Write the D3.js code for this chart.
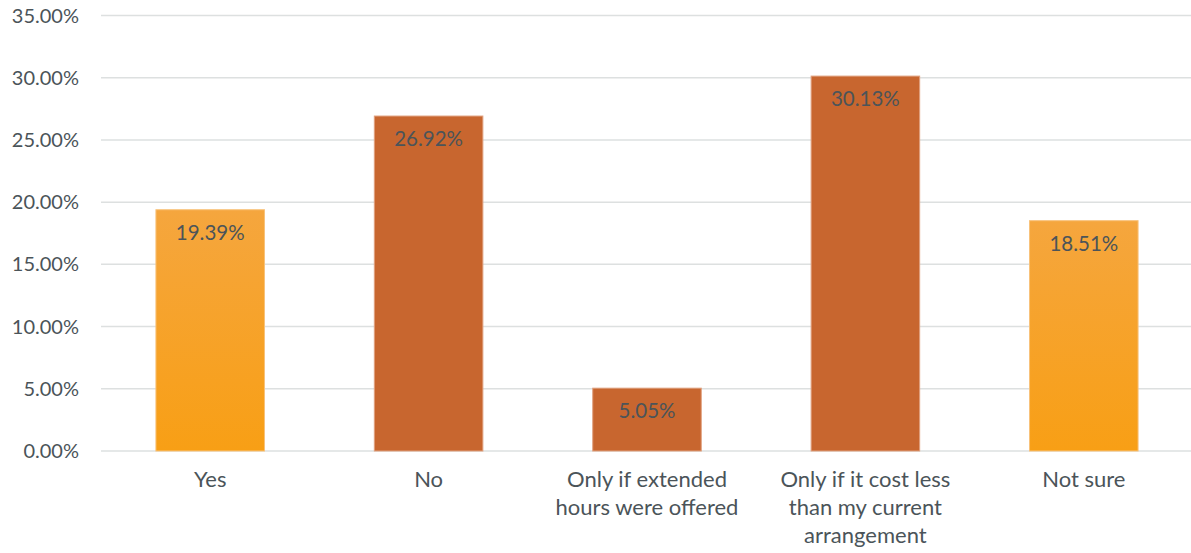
<!DOCTYPE html>
<html><head><meta charset="utf-8">
<script src="https://cdn.jsdelivr.net/npm/d3@7"></script>
<style>body{margin:0;background:#fff}svg{display:block}</style>
</head><body>
<svg id="c" width="1191" height="553"></svg>
<script>
const categories = [["Yes"],["No"],["Only if extended","hours were offered"],["Only if it cost less","than my current","arrangement"],["Not sure"]];
const values = [19.39, 26.92, 5.05, 30.13, 18.51];
const highlight = [true, false, false, false, true];
const yTicks = [0,5,10,15,20,25,30,35];

(function(){
const svg = d3.select("#c");
const pLeft = 101, pRight = 1193, pTop = 15.5, pBottom = 451;
const x = d3.scaleBand().domain(d3.range(values.length)).range([pLeft, pRight]).paddingInner(0.503).paddingOuter(0.2515);
const y = d3.scaleLinear().domain([0,35]).range([pBottom, pTop]);
const font = "'Lato','Open Sans',sans-serif";
const txt = "#4b5459";

const defs = svg.append("defs");
const g = defs.append("linearGradient").attr("id","og").attr("x1",0).attr("x2",0).attr("y1",0).attr("y2",1);
g.append("stop").attr("offset","0%").attr("stop-color","#f5a63e");
g.append("stop").attr("offset","100%").attr("stop-color","#f89f15");

svg.append("g").selectAll("line").data(yTicks).join("line")
  .attr("x1",pLeft).attr("x2",1191).attr("y1",d=>y(d)).attr("y2",d=>y(d))
  .attr("stroke","#dde0e0").attr("stroke-width",1.5);

svg.append("g").selectAll("text").data(yTicks).join("text")
  .attr("x",79).attr("y",d=>y(d)).attr("dy","0.35em").attr("text-anchor","end")
  .attr("font-family",font).attr("font-size",20).attr("fill",txt)
  .text(d=>d.toFixed(2)+"%");

svg.append("g").selectAll("rect").data(values).join("rect")
  .attr("x",(d,i)=>x(i)).attr("width",x.bandwidth())
  .attr("y",d=>y(d)).attr("height",d=>pBottom-y(d))
  .attr("fill",(d,i)=>highlight[i]?"url(#og)":"#c8662f")
  .attr("stroke",(d,i)=>highlight[i]?"#f8c27a":"#e0a07e").attr("stroke-width",1);

svg.append("g").selectAll("text").data(values).join("text")
  .attr("x",(d,i)=>x(i)+x.bandwidth()/2).attr("y",d=>y(d)+30)
  .attr("text-anchor","middle").attr("font-family",font).attr("font-size",20.5).attr("fill",txt)
  .text(d=>d.toFixed(2)+"%");

const cl = svg.append("g").selectAll("text").data(categories).join("text")
  .attr("x",(d,i)=>x(i)+x.bandwidth()/2).attr("y",487)
  .attr("text-anchor","middle").attr("font-family",font).attr("font-size",22).attr("fill",txt);
cl.selectAll("tspan").data(d=>d).join("tspan")
  .attr("x",function(){return this.parentNode.getAttribute("x");})
  .attr("dy",(d,j)=>j===0?0:28).text(d=>d);
})();
</script>
</body></html>
